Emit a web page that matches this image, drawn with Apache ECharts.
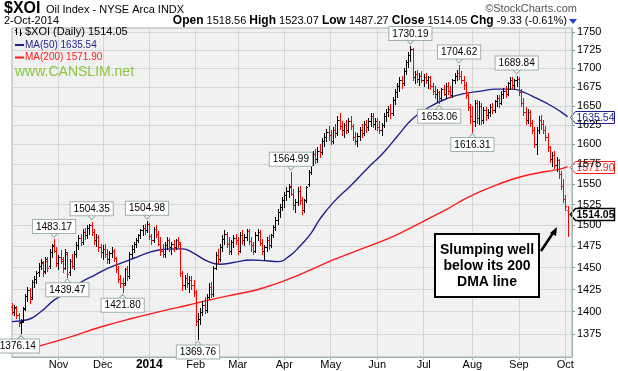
<!DOCTYPE html>
<html><head><meta charset="utf-8">
<script src="https://cdn.jsdelivr.net/npm/echarts@6/dist/echarts.min.js"></script>
<style>html,body{margin:0;padding:0;background:#fff}#c{width:618px;height:371px}</style>
</head><body><div id="c"></div>
<script>
// ---- daily OHLC [open, high, low, close] by month ----
const ohlcOct2013 = [
[1405,1410,1397,1400],[1400,1408,1396,1405],[1404,1406,1393,1396],[1396,1399,1384,1387],
[1388,1392,1376.14,1389],[1390,1405,1388,1403],[1404,1420,1402,1418],[1418,1428,1412,1425],
[1424,1427,1410,1414],[1416,1436,1414,1434],[1433,1440,1428,1437],[1437,1446,1432,1444],
[1445,1456,1440,1452],[1452,1460,1448,1457],[1455,1458,1440,1445],[1446,1463,1444,1460],
[1458,1462,1446,1450],[1452,1472,1450,1468],[1468,1478,1462,1475],[1476,1483.17,1468,1470],
[1470,1474,1452,1456]];
const ohlcNov2013 = [
[1455,1465,1448,1462],[1462,1471,1456,1460],[1458,1462,1445,1450],[1450,1472,1448,1468],
[1466,1468,1439.47,1443],[1445,1460,1442,1458],[1458,1466,1450,1452],[1452,1470,1448,1466],
[1466,1480,1462,1477],[1477,1488,1472,1485],[1485,1490,1476,1480],[1480,1495,1478,1492],
[1492,1497,1484,1488],[1488,1500,1485,1497],[1497,1502,1490,1500],[1500,1504.35,1488,1492],
[1492,1496,1478,1482],[1482,1490,1475,1486],[1486,1488,1470,1474],[1474,1478,1462,1468]];
const ohlcDec2013 = [
[1468,1476,1460,1472],[1472,1478,1462,1466],[1466,1472,1456,1460],[1460,1470,1455,1467],
[1467,1474,1462,1470],[1470,1472,1458,1461],[1461,1463,1445,1448],[1448,1452,1434,1437],
[1437,1442,1428,1432],[1432,1438,1421.80,1430],[1432,1450,1430,1448],[1448,1452,1436,1440],
[1440,1468,1438,1466],[1466,1476,1462,1472],[1472,1480,1468,1478],[1478,1485,1474,1482],
[1482,1490,1480,1488],[1488,1496,1485,1494],[1494,1500,1488,1497],[1497,1502,1490,1494],
[1494,1504.98,1492,1502]];
const ohlcJan2014 = [
[1502,1503,1484,1487],[1487,1490,1478,1482],[1482,1498,1480,1495],[1495,1500,1486,1490],
[1490,1493,1476,1478],[1478,1486,1465,1470],[1470,1478,1462,1466],[1466,1480,1463,1476],
[1476,1486,1472,1482],[1482,1485,1470,1474],[1474,1480,1466,1478],[1478,1482,1470,1474],
[1474,1484,1472,1482],[1482,1486,1474,1480],[1478,1480,1440,1444],[1444,1446,1424,1430],
[1430,1442,1426,1438],[1438,1444,1428,1432],[1432,1440,1422,1436],[1436,1440,1426,1430],
[1430,1436,1418,1422]];
const ohlcFeb2014 = [
[1422,1424,1385,1390],[1390,1398,1369.76,1392],[1392,1404,1386,1400],[1400,1412,1396,1408],
[1408,1416,1398,1402],[1402,1420,1400,1417],[1417,1432,1414,1428],[1428,1434,1416,1420],
[1420,1452,1418,1450],[1450,1468,1448,1465],[1465,1472,1456,1460],[1460,1478,1458,1474],
[1474,1488,1470,1484],[1484,1494,1478,1490],[1490,1492,1474,1478],[1478,1486,1466,1470],
[1470,1482,1466,1480],[1480,1488,1474,1485],[1485,1490,1478,1482]];
const ohlcMar2014 = [
[1482,1486,1466,1470],[1470,1492,1468,1488],[1488,1494,1478,1482],[1482,1490,1476,1486],
[1486,1496,1482,1493],[1493,1495,1478,1481],[1481,1486,1470,1476],[1476,1480,1466,1470],
[1470,1492,1468,1488],[1488,1496,1482,1492],[1492,1494,1476,1479],[1479,1484,1466,1470],
[1470,1476,1459,1474],[1474,1486,1470,1482],[1482,1488,1472,1476],[1476,1490,1474,1488],
[1488,1500,1486,1498],[1498,1510,1494,1506],[1506,1520,1502,1516],[1516,1526,1510,1522],
[1522,1534,1518,1530]];
const ohlcApr2014 = [
[1530,1540,1522,1536],[1536,1546,1530,1542],[1542,1550,1534,1546],[1548,1564.99,1536,1538],
[1538,1544,1520,1524],[1524,1532,1516,1528],[1528,1546,1524,1542],[1542,1548,1526,1530],
[1530,1534,1514,1518],[1518,1532,1516,1530],[1530,1548,1528,1546],[1550,1568,1548,1565],
[1565,1582,1562,1578],[1578,1592,1574,1588],[1588,1594,1576,1582],[1582,1596,1578,1592],
[1592,1600,1584,1590],[1590,1608,1588,1604],[1604,1614,1598,1610],[1610,1620,1604,1616],
[1616,1624,1606,1612]];
const ohlcMay2014 = [
[1612,1618,1600,1604],[1604,1622,1602,1618],[1618,1626,1610,1614],[1614,1636,1612,1632],
[1632,1640,1620,1624],[1624,1630,1612,1618],[1618,1628,1610,1625],[1625,1632,1614,1618],
[1618,1634,1616,1630],[1630,1636,1620,1624],[1624,1626,1606,1610],[1610,1616,1600,1604],
[1604,1614,1598,1611],[1611,1622,1606,1618],[1618,1626,1610,1615],[1615,1630,1612,1626],
[1626,1632,1616,1622],[1622,1634,1618,1630],[1630,1640,1624,1636],[1636,1640,1622,1626],
[1626,1634,1620,1630]];
const ohlcJun2014 = [
[1630,1634,1618,1622],[1622,1630,1614,1618],[1618,1628,1612,1625],[1625,1640,1622,1636],
[1636,1646,1630,1642],[1642,1650,1636,1646],[1646,1652,1634,1640],[1640,1662,1638,1658],
[1658,1672,1652,1668],[1668,1680,1662,1676],[1676,1688,1670,1684],[1684,1690,1674,1680],
[1680,1700,1678,1696],[1696,1712,1692,1708],[1708,1722,1702,1718],[1718,1730.19,1710,1726],
[1726,1728,1684,1688],[1688,1696,1680,1692],[1692,1698,1682,1686],[1686,1694,1678,1690],
[1690,1696,1682,1684]];
const ohlcJul2014 = [
[1684,1692,1676,1688],[1688,1694,1680,1684],[1684,1690,1674,1688],[1688,1690,1672,1676],
[1676,1680,1666,1670],[1670,1676,1660,1666],[1666,1672,1656,1668],[1668,1670,1653.06,1660],
[1660,1674,1658,1672],[1672,1678,1664,1666],[1666,1680,1662,1676],[1676,1682,1666,1670],
[1670,1676,1662,1664],[1664,1686,1662,1684],[1684,1694,1680,1690],[1690,1698,1684,1694],
[1694,1704.62,1686,1690],[1690,1696,1680,1684],[1684,1690,1672,1678],[1678,1682,1660,1664],
[1664,1668,1644,1648],[1648,1652,1628,1636]];
const ohlcAug2014 = [
[1636,1650,1616.31,1630],[1630,1658,1624,1654],[1654,1658,1628,1634],[1634,1656,1626,1650],
[1650,1654,1626,1632],[1632,1648,1628,1644],[1644,1648,1632,1638],[1638,1646,1634,1642],
[1642,1652,1636,1648],[1648,1654,1640,1644],[1644,1658,1642,1656],[1656,1664,1650,1660],
[1660,1664,1648,1654],[1654,1670,1652,1666],[1666,1674,1660,1670],[1670,1676,1662,1666],
[1666,1682,1664,1680],[1680,1688,1672,1684],[1684,1688,1674,1678],[1678,1686,1672,1684],
[1684,1689.84,1676,1686]];
const ohlcSep2014 = [
[1686,1688,1664,1668],[1668,1672,1650,1654],[1654,1660,1638,1642],[1642,1648,1626,1632],
[1632,1646,1628,1642],[1642,1644,1624,1628],[1628,1632,1614,1618],[1618,1622,1596,1600],
[1600,1622,1588,1618],[1618,1636,1614,1632],[1632,1638,1620,1626],[1626,1632,1614,1618],
[1618,1624,1606,1610],[1610,1614,1592,1596],[1596,1598,1578,1582],[1582,1590,1572,1586],
[1586,1592,1570,1574],[1574,1584,1566,1580],[1580,1582,1558,1562],[1562,1566,1544,1548],
[1548,1556,1528,1532]];
const ohlcOct2014 = [[1532,1536,1518,1523.38],[1518.56,1523.07,1487.27,1514.05]];

// ---- moving averages: [bar index, value] ----
const ma50Points = [[0,1389],[7,1391],[13,1400],[19,1413],[25,1422],[31,1433],[37,1441],[43,1449],
[49,1455],[55,1461],[61,1467],[67,1471],[73,1472],[77,1472],[82,1467],[88,1458],[94,1454],
[100,1456],[108,1459],[115,1458],[120,1457],[126,1465],[130,1475],[135,1490],[139,1507],
[145,1527],[153,1548],[160,1568],[168,1590],[174,1610],[181,1633],[189,1649],[197,1660],
[204,1666],[211,1669],[219,1672],[226,1672],[231,1668],[237,1660],[243,1651],[248,1642],[251,1635.54]];
const ma200Points = [[0,1355],[12,1362],[25,1371],[40,1383],[55,1393],[70,1402],[79,1407],[89,1413],
[100,1419],[108,1423],[115,1428],[122,1434],[130,1442],[138,1451],[145,1459],[153,1467],[160,1474],
[168,1482],[175,1490],[181,1498],[189,1509],[197,1520],[204,1531],[211,1540],[219,1549],[226,1556],
[234,1562],[242,1566],[248,1569],[251,1571.90]];

// ---- axes ----
const priceTicks = [1375,1400,1425,1450,1475,1500,1525,1550,1575,1600,1625,1650,1675,1700,1725,1750];
const monthStartIdx = [21,41,62,83,102,123,144,165,186,208,229,250];
const monthLabels = ['Nov','Dec','2014','Feb','Mar','Apr','May','Jun','Jul','Aug','Sep','Oct'];

// ---- annotated highs / lows ----
const highLabels = [[19,1483.17],[36,1504.35],[61,1504.98],[126,1564.99],[180,1730.19],[202,1704.62],[228,1689.84]];
const lowLabels = [[4,1376.14],[25,1439.47],[50,1421.80],[84,1369.76],[193,1653.06],[208,1616.31]];

// ---- header quote ----
const quoteDate = '2-Oct-2014';
const qOpen = '1518.56', qHigh = '1523.07', qLow = '1487.27', qClose = '1514.05', qChg = '-9.33 (-0.61%)';
const ma50Last = 1635.54, ma200Last = 1571.90, closeLast = 1514.05;

const FONT = '"Liberation Sans", Arial, sans-serif';
const ohlc = [].concat(ohlcOct2013, ohlcNov2013, ohlcDec2013, ohlcJan2014, ohlcFeb2014, ohlcMar2014,
  ohlcApr2014, ohlcMay2014, ohlcJun2014, ohlcJul2014, ohlcAug2014, ohlcSep2014, ohlcOct2014);
const nSlots = ohlc.length + 2;
const categories = Array.from({length: nSlots}, (_, i) => String(i));
const barData = ohlc.map((d, i) => [i, d[0], d[1], d[2], d[3]]);
const isMonth = (i) => monthStartIdx.indexOf(i) >= 0;

const chart = echarts.init(document.getElementById('c'), null, {renderer: 'canvas'});
const gridCol = '#d5d5d5', frameCol = '#a3b3ae';

const markStyle = {color: '#fff', borderColor: '#9fb0aa', borderWidth: 1};
const labelBase = {show: true, fontSize: 10, fontFamily: FONT, color: '#000', backgroundColor: '#fff',
  borderColor: '#9fb0aa', borderWidth: 1, padding: [2, 3, 1, 3], formatter: (p) => p.value.toFixed(2)};
const markData = highLabels.map(([i, v]) => ({coord: [i, v], value: v,
    symbol: 'path://M0,0L10,0L5,7Z', symbolSize: [7, 4], symbolOffset: [0, -4],
    label: {position: 'top', distance: 0}}))
  .concat(lowLabels.map(([i, v]) => ({coord: [i, v], value: v,
    symbol: 'path://M5,0L10,7L0,7Z', symbolSize: [7, 4], symbolOffset: [0, 4],
    label: {position: 'bottom', distance: 0, offset: i === 4 ? [-3, 0] : [0, 0]}})));

chart.setOption({
  animation: false,
  grid: {left: 12, right: 46, top: 28, bottom: 14, show: true, backgroundColor: '#f1f1f1',
    borderColor: frameCol, borderWidth: 1},
  xAxis: {type: 'category', data: categories, boundaryGap: false,
    axisLine: {show: true, lineStyle: {color: frameCol}},
    axisTick: {show: true, interval: (i) => isMonth(i), length: 3, lineStyle: {color: frameCol}},
    axisLabel: {interval: (i) => isMonth(i), margin: 2, fontSize: 11, fontFamily: FONT, color: '#000',
      formatter: (v, i) => { const k = monthStartIdx.indexOf(Number(v)); const t = monthLabels[k];
        return t === '2014' ? '{y|2014}' : t; },
      rich: {y: {fontWeight: 'bold', fontSize: 12, fontFamily: FONT, color: '#000'}}},
    splitLine: {show: true, interval: (i) => isMonth(i), lineStyle: {color: gridCol, width: 1}}},
  yAxis: {type: 'log', logBase: 10, position: 'right', min: 1350.3, max: 1755.6,
    axisLine: {show: true, lineStyle: {color: frameCol}},
    axisTick: {show: true, length: 3, customValues: priceTicks, lineStyle: {color: '#8a9a96'}},
    axisLabel: {customValues: priceTicks, margin: 5, fontSize: 11, fontFamily: FONT, color: '#000',
      formatter: (v) => String(Math.round(v))},
    splitLine: {show: true, lineStyle: {color: gridCol, width: 1}}},
  series: [
    {type: 'line', name: 'MA(200)', data: ma200Points, smooth: true, showSymbol: false, z: 2,
      lineStyle: {color: '#ff1a1a', width: 1.4}, itemStyle: {color: '#ff1a1a'}},
    {type: 'line', name: 'MA(50)', data: ma50Points, smooth: true, showSymbol: false, z: 2,
      lineStyle: {color: '#1f1f8f', width: 1.4}, itemStyle: {color: '#1f1f8f'}},
    {type: 'custom', name: '$XOI', data: barData, z: 3, encode: {x: 0, y: [1, 2, 3, 4]},
      renderItem: (params, api) => {
        const i = api.value(0), o = api.value(1), h = api.value(2), l = api.value(3), c = api.value(4);
        const prev = i > 0 ? ohlc[i - 1][3] : o;
        const col = c < prev ? '#ff0000' : '#000000';
        const ph = api.coord([i, h]), pl = api.coord([i, l]), po = api.coord([i, o]), pc = api.coord([i, c]);
        const x = Math.round(ph[0]) + 0.5;
        const yo = Math.round(po[1]) + 0.5, yc = Math.round(pc[1]) + 0.5;
        return {type: 'group', children: [
          {type: 'line', shape: {x1: x, y1: Math.round(ph[1]), x2: x, y2: Math.round(pl[1]) + 1}, style: {stroke: col, lineWidth: 1}},
          {type: 'line', shape: {x1: x - 1.5, y1: yo, x2: x, y2: yo}, style: {stroke: col, lineWidth: 1}},
          {type: 'line', shape: {x1: x, y1: yc, x2: x + 1.5, y2: yc}, style: {stroke: col, lineWidth: 1}}
        ]};
      },
      markPoint: {data: markData, itemStyle: markStyle, label: labelBase, z: 5}}
  ]
});

function tag(val, color, bold) {
  const y = Math.round(chart.convertToPixel({yAxisIndex: 0}, val)) + 0.5;
  const x0 = 570.5, w = 44, hh = 6;
  return {type: 'group', z: 20, children: [
    {type: 'polygon', shape: {points: [[x0, y], [x0 + 5, y - hh], [x0 + w, y - hh], [x0 + w, y + hh], [x0 + 5, y + hh]]},
      style: {fill: '#fff', stroke: color, lineWidth: bold ? 1.5 : 1}},
    {type: 'text', style: {text: val.toFixed(2), x: x0 + 25, y: y + 0.5, align: 'center', verticalAlign: 'middle',
      fill: color, font: (bold ? 'bold 10.5px ' : '10.5px ') + FONT}}
  ]};
}

const quoteRich = {b: {fontWeight: 'bold', fontSize: 12, fontFamily: FONT, fill: '#000'}};
chart.setOption({graphic: [
  // header
  {type: 'text', style: {text: '$XOI', x: 4, y: 9, verticalAlign: 'middle', font: 'bold 16px ' + FONT, fill: '#000'}},
  {type: 'text', style: {text: 'Oil Index - NYSE Arca INDX', x: 46, y: 10, verticalAlign: 'middle', font: '11px ' + FONT, fill: '#000'}},
  {type: 'text', style: {text: '\u00A9StockCharts.com', x: 577, y: 9, align: 'right', verticalAlign: 'middle', font: '11px ' + FONT, fill: '#555'}},
  {type: 'text', style: {text: quoteDate, x: 4, y: 21, verticalAlign: 'middle', font: '11px ' + FONT, fill: '#000'}},
  {type: 'text', style: {text: '{b|Open} ' + qOpen + ' {b|High} ' + qHigh + ' {b|Low} ' + qLow + ' {b|Close} ' + qClose + ' {b|Chg} ' + qChg,
    x: 567, y: 21, align: 'right', verticalAlign: 'middle', font: '11px ' + FONT, fill: '#000', rich: quoteRich}},
  {type: 'polygon', shape: {points: [[569, 19], [577, 19], [573, 24]]}, style: {fill: '#1f3fe0'}},
  // legend
  {type: 'line', shape: {x1: 16.5, y1: 28, x2: 16.5, y2: 35}, style: {stroke: '#000', lineWidth: 1}},
  {type: 'line', shape: {x1: 15, y1: 30.5, x2: 16.5, y2: 30.5}, style: {stroke: '#000', lineWidth: 1}},
  {type: 'line', shape: {x1: 20.5, y1: 29, x2: 20.5, y2: 36}, style: {stroke: '#000', lineWidth: 1}},
  {type: 'line', shape: {x1: 20.5, y1: 33.5, x2: 22, y2: 33.5}, style: {stroke: '#000', lineWidth: 1}},
  {type: 'text', style: {text: '$XOI (Daily) ' + qClose, x: 25, y: 32, verticalAlign: 'middle', font: '11px ' + FONT, fill: '#000'}},
  {type: 'line', shape: {x1: 15, y1: 45, x2: 24, y2: 45}, style: {stroke: '#1f1f8f', lineWidth: 2}},
  {type: 'text', style: {text: 'MA(50) ' + ma50Last.toFixed(2), x: 25, y: 45, verticalAlign: 'middle', font: '10px ' + FONT, fill: '#1f1f8f'}},
  {type: 'line', shape: {x1: 15, y1: 57.5, x2: 24, y2: 57.5}, style: {stroke: '#ff1a1a', lineWidth: 2}},
  {type: 'text', style: {text: 'MA(200) ' + ma200Last.toFixed(2), x: 25, y: 57.5, verticalAlign: 'middle', font: '10px ' + FONT, fill: '#ff1a1a'}},
  {type: 'text', style: {text: 'www.CANSLIM.net', x: 15, y: 72, verticalAlign: 'middle', font: '14px ' + FONT, fill: '#8cc63f'}},
  // right-side value tags
  tag(ma50Last, '#1f1f8f', false),
  tag(ma200Last, '#ff1a1a', false),
  tag(closeLast, '#000000', true),
  // annotation
  {type: 'rect', z: 20, shape: {x: 435, y: 234, width: 104, height: 63}, style: {fill: '#fff', stroke: '#000', lineWidth: 2}},
  {type: 'text', z: 21, style: {text: 'Slumping well\nbelow its 200\nDMA line', x: 487, y: 266, align: 'center', verticalAlign: 'middle',
    font: 'bold 14px ' + FONT, fill: '#000', lineHeight: 16}},
  {type: 'line', z: 21, shape: {x1: 541, y1: 251, x2: 553, y2: 233}, style: {stroke: '#000', lineWidth: 2.5}},
  {type: 'polygon', z: 21, shape: {points: [[557, 227], [550, 233], [556, 236]]}, style: {fill: '#000'}}
]});
</script></body></html>
